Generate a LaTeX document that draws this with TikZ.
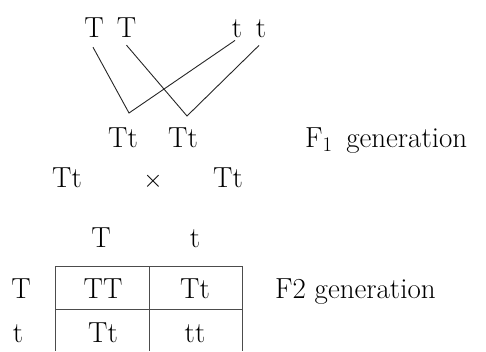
\documentclass[tikz,border=0pt]{standalone}
\begin{document}
\begin{tikzpicture}[x=1pt,y=-1pt,
  lbl/.style={anchor=base,inner sep=0pt,font=\fontsize{29}{35}\selectfont},
  wire/.style={line width=0.9pt,black!85},
  grid/.style={line width=1pt,black!70}]
\useasboundingbox (0,0) rectangle (486,351);
% parents
\node[lbl] (T1) at (94,37) {T};
\node[lbl] (T2) at (126.5,37) {T};
\node[lbl] (t1) at (237,37) {t};
\node[lbl] (t2) at (261,37) {t};
% F1
\node[lbl] (F1a) at (123,147) {Tt};
\node[lbl] (F1b) at (183,147) {Tt};
\node[lbl,anchor=base west] (F1lab) at (305,147) {F$_1$\, generation};
\coordinate (j1) at (129,113);
\coordinate (j2) at (187,116);
\draw[wire] ([xshift=-1pt,yshift=-10pt]T1.south) -- (j1) -- ([xshift=-2pt,yshift=-3pt]t1.south);
\draw[wire] ([yshift=-8pt]T2.south) -- (j2) -- ([xshift=-2pt,yshift=-8pt]t2.south);
% cross
\node[lbl] (Ca) at (67,187) {Tt};
\node[lbl] (X) at (153,187) {$\times$};
\node[lbl] (Cb) at (228,187) {Tt};
% punnett
\node[lbl] (hT) at (101,247) {T};
\node[lbl] (ht) at (195,247) {t};
\node[lbl] (rT) at (21,298) {T};
\node[lbl] (rt) at (18,342) {t};
\node[lbl] (c11) at (103,298) {TT};
\node[lbl] (c12) at (195,298) {Tt};
\node[lbl] (c21) at (103,342) {Tt};
\node[lbl] (c22) at (195,342) {tt};
\node[lbl,anchor=base west] (F2lab) at (275,298) {F2 generation};
\draw[grid] (55,266) -- (242,266);
\draw[grid] (55,309) -- (242,309);
\draw[grid] (55,266) -- (55,351);
\draw[grid] (149,266) -- (149,351);
\draw[grid] (242,266) -- (242,351);
\end{tikzpicture}
\end{document}
